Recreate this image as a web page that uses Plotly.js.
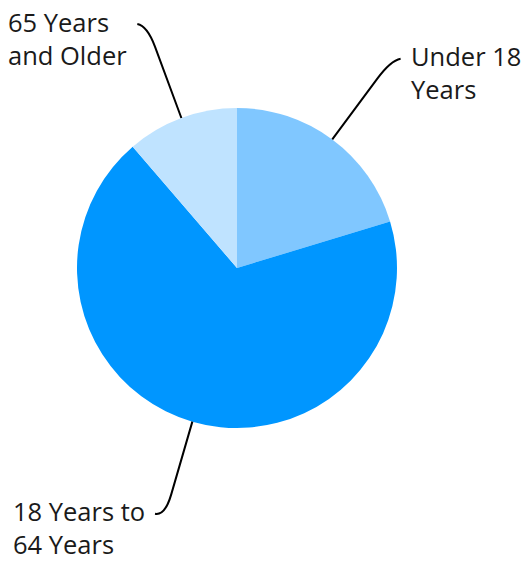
<!DOCTYPE html>
<html>
<head>
<meta charset="utf-8">
<script src="https://cdn.plot.ly/plotly-3.0.1.min.js"></script>
<style>html,body{margin:0;padding:0;background:#fff;}#chart{width:527px;height:563px;}</style>
</head>
<body>
<div id="chart"></div>
<script>
// ---- data ----
const labels = ['Under 18<br>Years', '18 Years to<br>64 Years', '65 Years<br>and Older'];
const values = [20.3, 68.4, 11.3];
const colors = ['#80c7ff', '#0096ff', '#bfe3ff'];

// ---- layout geometry (pixels) ----
const W = 527, H = 563;
const CX = 237, CY = 268, R = 160;
const FONT_SIZE = 25.5;
const px = x => x / W;
const py = y => 1 - y / H;

const total = values.reduce((a, b) => a + b, 0);
const shapes = [], annotations = [];
let cum = 0;
values.forEach((v, i) => {
  const mid = (cum + v / 2) / total * 2 * Math.PI; // clockwise from 12 o'clock
  cum += v;
  const s = Math.sin(mid), c = Math.cos(mid);
  const pt = r => [CX + r * s, CY - r * c];
  const p0 = pt(R), p1 = pt(R + 76), cp = pt(R + 98);
  const side = s >= 0 ? 1 : -1;
  const e = [cp[0] + side * 10, cp[1] - 2];
  const path = `M ${px(p0[0])} ${py(p0[1])} L ${px(p1[0])} ${py(p1[1])} Q ${px(cp[0])} ${py(cp[1])} ${px(e[0])} ${py(e[1])}`;
  shapes.push({type: 'path', xref: 'paper', yref: 'paper', path: path,
    line: {color: '#000', width: 2}});
  annotations.push({
    xref: 'paper', yref: 'paper',
    x: px(e[0] + side * 9), y: py(e[1] + 14),
    xanchor: side > 0 ? 'left' : 'right', yanchor: 'middle', align: 'left',
    text: labels[i], showarrow: false, borderpad: 0,
    font: {family: 'Open Sans', size: FONT_SIZE, color: '#1a1a1a'}
  });
});

const trace = {
  type: 'pie',
  labels: labels,
  values: values,
  sort: false,
  direction: 'clockwise',
  rotation: 0,
  textinfo: 'none',
  hoverinfo: 'label+percent',
  marker: {colors: colors, line: {width: 0}},
  domain: {x: [px(CX - R), px(CX + R)], y: [py(CY + R), py(CY - R)]}
};

Plotly.newPlot('chart', [trace], {
  width: W, height: H,
  margin: {l: 0, r: 0, t: 0, b: 0},
  showlegend: false,
  paper_bgcolor: '#fff',
  font: {family: 'Open Sans'},
  shapes: shapes,
  annotations: annotations
}, {displayModeBar: false, staticPlot: true});
</script>
</body>
</html>
